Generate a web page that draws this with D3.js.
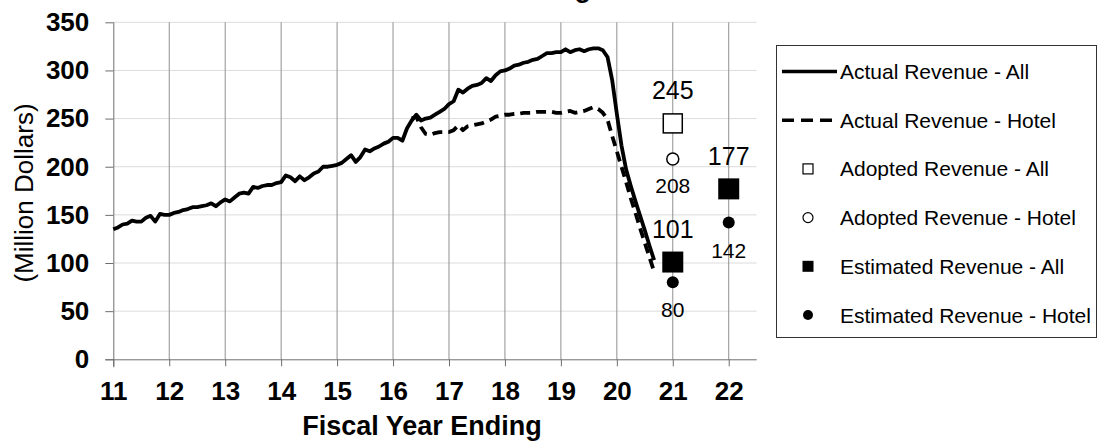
<!DOCTYPE html>
<html>
<head>
<meta charset="utf-8">
<script src="https://cdn.jsdelivr.net/npm/d3@7"></script>
<style>
  html, body { margin: 0; padding: 0; background: #fff; }
  svg { display: block; font-family: "Liberation Sans", Arial, sans-serif; }
</style>
</head>
<body>
<svg id="chart" width="1098" height="441"></svg>
<script>
// ---------------- DATA ----------------
const chartTitle = "Hotel Tax Revenue Tracking";
const xTickLabels = [11, 12, 13, 14, 15, 16, 17, 18, 19, 20, 21, 22];
const yTickLabels = [0, 50, 100, 150, 200, 250, 300, 350];

// monthly series, first point at fiscal year 11.0 (one value per month)
const actualAllStart = 11;
const actualAll = [
  135, 137, 140, 141, 144, 143, 143, 147, 149, 143, 151, 150,
  150, 152, 153, 155, 156, 158, 158, 159, 160, 162, 159, 163,
  166, 164, 168, 172, 173, 172, 179, 178, 180, 181, 181, 183,
  184, 191, 189, 185, 190, 186, 189, 193, 195, 200, 200, 201,
  202, 204, 208, 212, 205, 210, 218, 216, 219, 221, 224, 226,
  230, 230, 227, 240, 248, 254, 248, 250, 251, 254, 257, 260,
  265, 268, 280, 277, 281, 284, 285, 287, 292, 289, 295, 299,
  300, 302, 305, 306, 308, 309, 311, 312, 315, 318, 318, 319,
  319, 322, 319, 321, 322, 320, 322, 323, 323, 321, 314, 290,
  255, 222, 197, 180, 164, 149, 134, 118, 103
];
// hotel series starts at fiscal year 16 + 4 months
const actualHotelStart = 16 + 4 / 12;
const actualHotel = [
  250, 252, 241, 234, 233, 235, 236, 236,
  236, 238, 243, 238, 242, 243, 244, 245, 247, 249, 252, 253,
  254, 254, 255, 255, 256, 256, 256, 257, 257, 257, 257, 256,
  256, 257, 258, 256, 257, 258, 260, 262, 260, 256, 249, 232,
  216, 200, 184, 167, 152, 136, 121, 106, 91
];

const markerYears = [21, 22];
const adoptedAll = [245, null];
const adoptedHotel = [208, null];
const estimatedAll = [101, 177];
const estimatedHotel = [80, 142];

const legendLabels = [
  "Actual Revenue - All",
  "Actual Revenue - Hotel",
  "Adopted Revenue - All",
  "Adopted Revenue - Hotel",
  "Estimated Revenue - All",
  "Estimated Revenue - Hotel"
];

// ---------------- CHART ----------------
const svg = d3.select("#chart");
const x = d3.scaleLinear().domain([11, 22.5]).range([113.3, 756.7]);
const y = d3.scaleLinear().domain([0, 350]).range([359.3, 22.3]);

// title (mostly cropped above the frame, as in the reference)
svg.append("text")
  .attr("x", 591).attr("y", -3)
  .attr("text-anchor", "end")
  .attr("font-weight", "bold").attr("font-size", 27)
  .text(chartTitle);

// horizontal gridlines
svg.append("g").selectAll("line")
  .data(yTickLabels.filter(d => d > 0))
  .join("line")
  .attr("x1", x(11)).attr("x2", x(22.5))
  .attr("y1", d => y(d)).attr("y2", d => y(d))
  .attr("stroke", "#dcdcdc").attr("stroke-width", 1);

// vertical gridlines
svg.append("g").selectAll("line")
  .data(xTickLabels.filter(d => d > 11))
  .join("line")
  .attr("x1", d => x(d)).attr("x2", d => x(d))
  .attr("y1", y(350)).attr("y2", y(0))
  .attr("stroke", "#909090").attr("stroke-width", 1);

// x axis
const xAxis = d3.axisBottom(x).tickValues(xTickLabels).tickSize(7).tickPadding(15)
  .tickFormat(d3.format("d"));
const gx = svg.append("g").attr("transform", `translate(0,${y(0)})`).call(xAxis);
gx.select(".domain").attr("stroke", "#6e6e6e").attr("d", `M${x(11) - 8},0.5H${x(22.5)}`);
gx.selectAll(".tick line").attr("stroke", "#6e6e6e");
gx.selectAll(".tick text").attr("font-size", 26).attr("font-weight", "bold")
  .attr("font-family", "Liberation Sans, Arial, sans-serif").attr("fill", "#000");

// y axis
const yAxis = d3.axisLeft(y).tickValues(yTickLabels).tickSize(8).tickPadding(16)
  .tickFormat(d3.format("d"));
const gy = svg.append("g").attr("transform", `translate(${x(11)},0)`).call(yAxis);
gy.select(".domain").attr("stroke", "#6e6e6e").attr("d", `M0.5,${y(350)}V${y(0) + 8}`);
gy.selectAll(".tick line").attr("stroke", "#6e6e6e");
gy.selectAll(".tick text").attr("font-size", 26).attr("font-weight", "bold")
  .attr("font-family", "Liberation Sans, Arial, sans-serif").attr("fill", "#000");

// axis titles
svg.append("text")
  .attr("x", 422).attr("y", 435)
  .attr("text-anchor", "middle")
  .attr("font-weight", "bold").attr("font-size", 27)
  .text("Fiscal Year Ending");
svg.append("text")
  .attr("transform", "translate(33,193) rotate(-90)")
  .attr("text-anchor", "middle")
  .attr("font-size", 26)
  .text("(Million Dollars)");

// lines
const lineGen = d3.line().x(d => x(d[0])).y(d => y(d[1]));
const allPts = actualAll.map((v, i) => [actualAllStart + i / 12, v]);
const hotelPts = actualHotel.map((v, i) => [actualHotelStart + i / 12, v]);

svg.append("path").datum(hotelPts)
  .attr("d", lineGen).attr("fill", "none")
  .attr("stroke", "#000").attr("stroke-width", 3.8)
  .attr("stroke-dasharray", "10,6").attr("stroke-linejoin", "round");
svg.append("path").datum(allPts)
  .attr("d", lineGen).attr("fill", "none")
  .attr("stroke", "#000").attr("stroke-width", 3.8)
  .attr("stroke-linejoin", "round");

// markers
const mk = svg.append("g");
markerYears.forEach((yr, i) => {
  if (adoptedAll[i] != null) {
    mk.append("rect")
      .attr("x", x(yr) - 9.5).attr("y", y(adoptedAll[i]) - 9.5)
      .attr("width", 19).attr("height", 19)
      .attr("fill", "#fff").attr("stroke", "#000").attr("stroke-width", 1.5);
    mk.append("text").attr("x", x(yr)).attr("y", y(adoptedAll[i]) - 24)
      .attr("text-anchor", "middle").attr("font-size", 25).text(adoptedAll[i]);
  }
  if (adoptedHotel[i] != null) {
    mk.append("circle")
      .attr("cx", x(yr)).attr("cy", y(adoptedHotel[i])).attr("r", 6)
      .attr("fill", "#fff").attr("stroke", "#000").attr("stroke-width", 1.5);
    mk.append("text").attr("x", x(yr)).attr("y", y(adoptedHotel[i]) + 34)
      .attr("text-anchor", "middle").attr("font-size", 21).text(adoptedHotel[i]);
  }
  if (estimatedAll[i] != null) {
    mk.append("rect")
      .attr("x", x(yr) - 10.5).attr("y", y(estimatedAll[i]) - 10.5)
      .attr("width", 21).attr("height", 21).attr("fill", "#000");
    mk.append("text").attr("x", x(yr)).attr("y", y(estimatedAll[i]) - 24)
      .attr("text-anchor", "middle").attr("font-size", 25).text(estimatedAll[i]);
  }
  if (estimatedHotel[i] != null) {
    mk.append("circle")
      .attr("cx", x(yr)).attr("cy", y(estimatedHotel[i])).attr("r", 6)
      .attr("fill", "#000");
    mk.append("text").attr("x", x(yr)).attr("y", y(estimatedHotel[i]) + 35)
      .attr("text-anchor", "middle").attr("font-size", 21).text(estimatedHotel[i]);
  }
});

// legend
const lg = svg.append("g");
lg.append("rect").attr("x", 776.5).attr("y", 45.5).attr("width", 320).attr("height", 292)
  .attr("fill", "#fff").attr("stroke", "#333").attr("stroke-width", 1);
const rowY = d3.scaleLinear().domain([0, 5]).range([71.5, 315]);
legendLabels.forEach((lab, i) => {
  const cy = rowY(i);
  if (i === 0) {
    lg.append("line").attr("x1", 782).attr("x2", 837).attr("y1", cy).attr("y2", cy)
      .attr("stroke", "#000").attr("stroke-width", 3.5);
  } else if (i === 1) {
    lg.append("line").attr("x1", 782).attr("x2", 837).attr("y1", cy).attr("y2", cy)
      .attr("stroke", "#000").attr("stroke-width", 3.5).attr("stroke-dasharray", "12,7");
  } else if (i === 2) {
    lg.append("rect").attr("x", 803).attr("y", cy - 5).attr("width", 10).attr("height", 10)
      .attr("fill", "#fff").attr("stroke", "#000").attr("stroke-width", 1.2);
  } else if (i === 3) {
    lg.append("circle").attr("cx", 808).attr("cy", cy).attr("r", 5)
      .attr("fill", "#fff").attr("stroke", "#000").attr("stroke-width", 1.2);
  } else if (i === 4) {
    lg.append("rect").attr("x", 802.5).attr("y", cy - 5.5).attr("width", 11).attr("height", 11)
      .attr("fill", "#000");
  } else {
    lg.append("circle").attr("cx", 808).attr("cy", cy).attr("r", 5).attr("fill", "#000");
  }
  lg.append("text").attr("x", 840).attr("y", cy + 7.5)
    .attr("font-size", 21).text(lab);
});
</script>
</body>
</html>
